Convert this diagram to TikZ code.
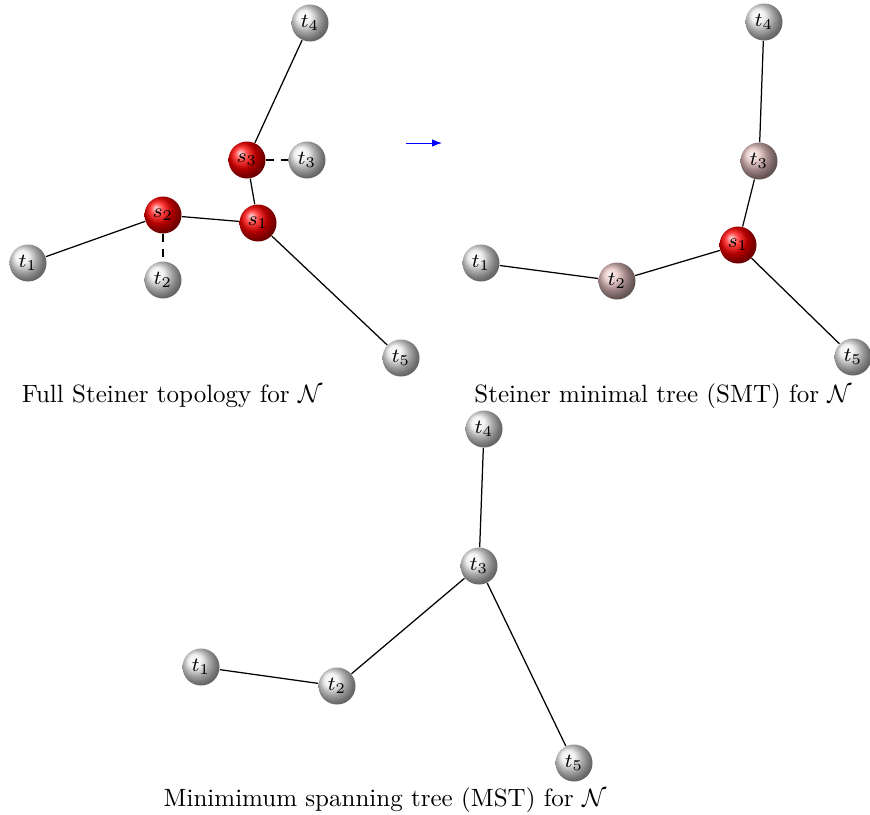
\documentclass[tikz,border=0pt]{standalone}
\usetikzlibrary{arrows.meta}
\definecolor{smtpink}{RGB}{228,190,190}
\begin{document}
\begin{tikzpicture}[x=0.4pt,y=-0.4pt,
  term/.style={circle,minimum size=14.8pt,inner sep=0pt,ball color=gray!15,font=\footnotesize},
  stein/.style={term,ball color=red},
  moved/.style={term,ball color=smtpink},
  edge/.style={line width=0.5pt},
  virt/.style={edge,dashed}]
\useasboundingbox (0,0) rectangle (870,814);

% Full Steiner topology
\node[term]  (a4) at (310,23)  {$t_4$};
\node[stein] (as3) at (247,160) {$s_3$};
\node[term]  (a3) at (307,160) {$t_3$};
\node[stein] (as2) at (163,215) {$s_2$};
\node[stein] (as1) at (258,223) {$s_1$};
\node[term]  (a1) at (28,263)  {$t_1$};
\node[term]  (a2) at (163,280) {$t_2$};
\node[term]  (a5) at (401,358) {$t_5$};
\draw[edge] (a4) -- (as3);
\draw[virt] (as3) -- (a3);
\draw[edge] (as3) -- (as1);
\draw[edge] (as2) -- (as1);
\draw[edge] (a1) -- (as2);
\draw[virt] (as2) -- (a2);
\draw[edge] (as1) -- (a5);
\node (capA) at (172,396) {Full Steiner topology for $\mathcal{N}$};

% arrow between the two upper panels
\coordinate (arrS) at (406,143);
\coordinate (arrE) at (442,143);
\draw[blue,-{Latex[length=4pt]}] (arrS) -- (arrE);

% Steiner minimal tree
\node[term]  (b4) at (764,22)  {$t_4$};
\node[moved] (b3) at (759,161) {$t_3$};
\node[stein] (bs1) at (738,245) {$s_1$};
\node[term]  (b1) at (481,263) {$t_1$};
\node[moved] (b2) at (617,281) {$t_2$};
\node[term]  (b5) at (853,357) {$t_5$};
\draw[edge] (b4) -- (b3);
\draw[edge] (b3) -- (bs1);
\draw[edge] (bs1) -- (b2);
\draw[edge] (b2) -- (b1);
\draw[edge] (bs1) -- (b5);
\node (capB) at (663,396) {Steiner minimal tree (SMT) for $\mathcal{N}$};

% Minimum spanning tree
\node[term] (c4) at (484,429) {$t_4$};
\node[term] (c3) at (479,566) {$t_3$};
\node[term] (c1) at (201,667) {$t_1$};
\node[term] (c2) at (337,686) {$t_2$};
\node[term] (c5) at (574,763) {$t_5$};
\draw[edge] (c4) -- (c3);
\draw[edge] (c3) -- (c2);
\draw[edge] (c2) -- (c1);
\draw[edge] (c3) -- (c5);
\node (capC) at (385,800) {Minimimum spanning tree (MST) for $\mathcal{N}$};
\end{tikzpicture}
\end{document}
